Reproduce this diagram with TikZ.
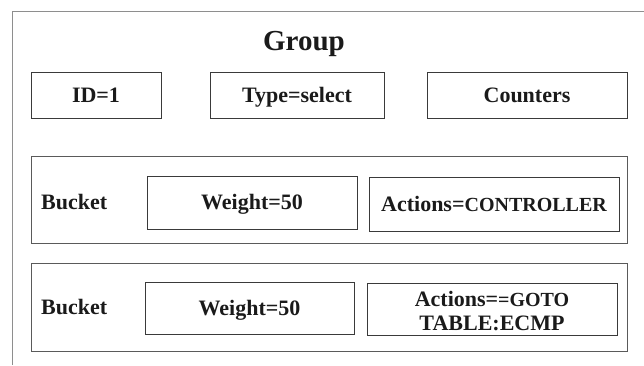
\documentclass[tikz,border=0pt]{standalone}
\usepackage{fontspec}
\setmainfont{Liberation Serif}
\definecolor{ink}{HTML}{1A1A1A}
\definecolor{boxline}{HTML}{3A3A3A}
\definecolor{bucketline}{HTML}{5A5A5A}
\definecolor{frameline}{HTML}{8E8E8E}
\newcommand{\capsize}{\fontsize{20}{24}\selectfont}
\begin{document}
\begin{tikzpicture}[x=1pt, y=-1pt,
  field/.style={draw=boxline, line width=1pt, inner sep=0pt,
    text height=14.5pt, text depth=0pt, text=ink,
    font=\fontsize{22}{24}\selectfont\bfseries},
  bucketbox/.style={draw=bucketline, line width=1pt, inner sep=0pt},
  plainlabel/.style={inner sep=0pt, text=ink,
    font=\fontsize{22}{24}\selectfont\bfseries}
]
\useasboundingbox (0,0) rectangle (644,365);

% enclosing group frame (open to the right and bottom)
\draw[frameline, line width=1pt] (644,11) -- (12,11) -- (12,365);

% group header
\node[inner sep=0pt, anchor=base, text=ink,
  font=\fontsize{29}{32}\selectfont\bfseries] (title) at (304,50) {Group};

% group fields
\node[field, minimum width=130, minimum height=46] (id) at (96,95) {ID=1};
\node[field, minimum width=174, minimum height=46] (type) at (297,95) {Type=select};
\node[field, minimum width=200, minimum height=46] (counters) at (527,95) {Counters};

% first bucket
\node[bucketbox, minimum width=596, minimum height=87] (bucket1) at (329,199.5) {};
\node[plainlabel, anchor=base west] (blabel1) at (41,209) {Bucket};
\node[field, minimum width=210, minimum height=53] (weight1) at (252,202.5) {Weight=50};
\node[field, minimum width=250, minimum height=54] (actions1) at (494,204)
  {Actions={\capsize CONTROLLER}};

% second bucket
\node[bucketbox, minimum width=596, minimum height=88] (bucket2) at (329,307) {};
\node[plainlabel, anchor=base west] (blabel2) at (41,314) {Bucket};
\node[draw=boxline, line width=1pt, inner sep=0pt, text=ink,
  font=\fontsize{22}{24}\selectfont\bfseries,
  minimum width=209, minimum height=52,
  text height=14.5pt, text depth=0pt] (weight2) at (249.5,308) {Weight=50};
\node[draw=boxline, line width=1pt, inner sep=0pt, text=ink, align=center,
  font=\fontsize{22}{24}\selectfont\bfseries,
  minimum width=250, minimum height=52] (actions2) at (492,309) {};
\node[inner sep=0pt, anchor=base, text=ink,
  font=\fontsize{22}{24}\selectfont\bfseries] (act2a) at (actions2.center |- 0,306)
  {Actions={\capsize =GOTO}};
\node[inner sep=0pt, anchor=base, text=ink,
  font=\fontsize{22}{24}\selectfont\bfseries] (act2b) at (actions2.center |- 0,330)
  {TABLE:ECMP};
\end{tikzpicture}
\end{document}
